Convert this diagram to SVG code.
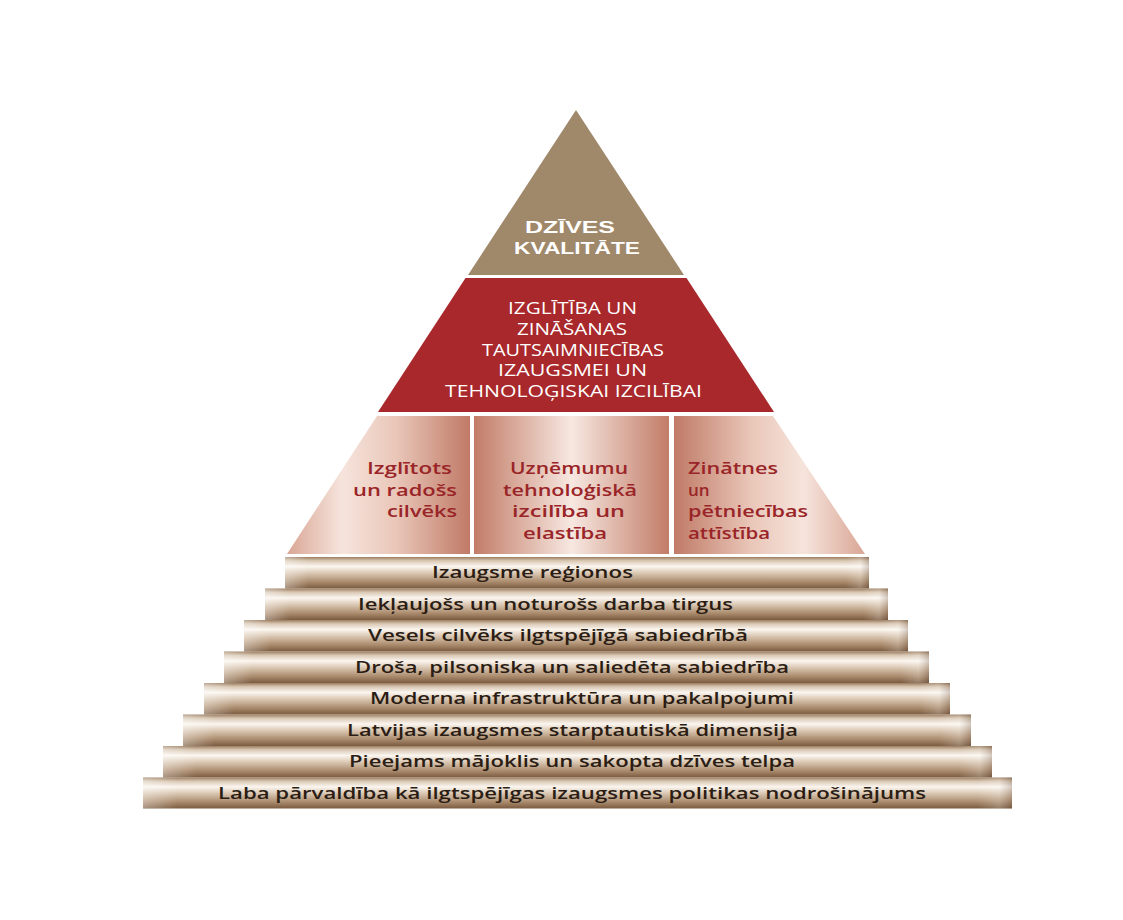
<svg xmlns="http://www.w3.org/2000/svg" width="1123" height="920" viewBox="0 0 1123 920">
<style>
.top{font-family:"Liberation Sans","Open Sans",sans-serif;font-weight:700;font-size:16.5px;fill:#ffffff}
.red{font-family:"Open Sans","Liberation Sans",sans-serif;font-weight:400;font-size:16px;fill:#ffffff}
.pan{font-family:"Open Sans","Liberation Sans",sans-serif;font-weight:600;font-size:17px;fill:#9a2528}
.bar{font-family:"Open Sans","Liberation Sans",sans-serif;font-weight:600;font-size:16.5px;fill:#2b1d14}
.barshape{fill:url(#barGrad)}
.barend{fill:url(#barEnd)}
</style>
<defs>
<linearGradient id="barGrad" x1="0" y1="0" x2="0" y2="1">
<stop offset="0" stop-color="#9c7d60"/>
<stop offset="0.12" stop-color="#d9c8b4"/>
<stop offset="0.3" stop-color="#fbf6f0"/>
<stop offset="0.5" stop-color="#dccab6"/>
<stop offset="0.78" stop-color="#ac8d6f"/>
<stop offset="1" stop-color="#7a5b40"/>
</linearGradient>
<linearGradient id="barEnd" x1="0" y1="0" x2="1" y2="0">
<stop offset="0" stop-color="#ffffff" stop-opacity="0.35"/>
<stop offset="0.04" stop-color="#ffffff" stop-opacity="0"/>
<stop offset="0.96" stop-color="#ffffff" stop-opacity="0"/>
<stop offset="0.985" stop-color="#ffffff" stop-opacity="0.2"/>
<stop offset="1" stop-color="#5a4030" stop-opacity="0.25"/>
</linearGradient>
<linearGradient id="gLeft" gradientUnits="userSpaceOnUse" x1="287" y1="0" x2="470" y2="0">
<stop offset="0" stop-color="#d9a695"/>
<stop offset="0.3" stop-color="#f6e4dc"/>
<stop offset="0.6" stop-color="#e9c6b8"/>
<stop offset="1" stop-color="#c07a66"/>
</linearGradient>
<linearGradient id="gMid" x1="0" y1="0" x2="1" y2="0">
<stop offset="0" stop-color="#c27c67"/>
<stop offset="0.5" stop-color="#f7e8e1"/>
<stop offset="1" stop-color="#c27c67"/>
</linearGradient>
<linearGradient id="gRight" gradientUnits="userSpaceOnUse" x1="674" y1="0" x2="865" y2="0">
<stop offset="0" stop-color="#c07a66"/>
<stop offset="0.4" stop-color="#e9c6b8"/>
<stop offset="0.68" stop-color="#f6e4dc"/>
<stop offset="1" stop-color="#d9a695"/>
</linearGradient>
</defs>
<rect width="1123" height="920" fill="#ffffff"/>

<g id="dzives-kvalitate">
<polygon points="576,110 468,275 684,275" fill="#a0886b"/>
<text class="top" x="525" y="233" textLength="90" lengthAdjust="spacingAndGlyphs">DZĪVES</text>
<text class="top" x="514" y="253.5" textLength="126" lengthAdjust="spacingAndGlyphs">KVALITĀTE</text>
</g>

<g id="izglitiba-zinasanas">
<polygon points="465.5,278 686.5,278 774,412 378,412" fill="#a8282b"/>
<text class="red" x="508" y="314" textLength="129" lengthAdjust="spacingAndGlyphs">IZGLĪTĪBA UN</text>
<text class="red" x="517" y="335" textLength="110" lengthAdjust="spacingAndGlyphs">ZINĀŠANAS</text>
<text class="red" x="482" y="355.5" textLength="182" lengthAdjust="spacingAndGlyphs">TAUTSAIMNIECĪBAS</text>
<text class="red" x="498" y="376" textLength="149" lengthAdjust="spacingAndGlyphs">IZAUGSMEI UN</text>
<text class="red" x="445" y="397" textLength="257" lengthAdjust="spacingAndGlyphs">TEHNOLOĢISKAI IZCILĪBAI</text>
</g>

<g id="izglitots-cilveks">
<polygon points="377,416 470,416 470,554 287,554" fill="url(#gLeft)"/>
<text class="pan" x="367" y="474" textLength="85" lengthAdjust="spacingAndGlyphs">Izglītots</text>
<text class="pan" x="353" y="495.5" textLength="104" lengthAdjust="spacingAndGlyphs">un radošs</text>
<text class="pan" x="387" y="517" textLength="70" lengthAdjust="spacingAndGlyphs">cilvēks</text>
</g>

<g id="uznemumu-izciliba">
<rect x="474" y="416" width="195" height="138" fill="url(#gMid)"/>
<text class="pan" x="510" y="474" textLength="118" lengthAdjust="spacingAndGlyphs">Uzņēmumu</text>
<text class="pan" x="503" y="495.5" textLength="134" lengthAdjust="spacingAndGlyphs">tehnoloģiskā</text>
<text class="pan" x="512" y="517" textLength="113" lengthAdjust="spacingAndGlyphs">izcilība un</text>
<text class="pan" x="523" y="538.5" textLength="84" lengthAdjust="spacingAndGlyphs">elastība</text>
</g>

<g id="zinatnes-attistiba">
<polygon points="674,416 773,416 865,554 674,554" fill="url(#gRight)"/>
<text class="pan" x="688" y="474" textLength="90" lengthAdjust="spacingAndGlyphs">Zinātnes</text>
<text class="pan" x="688" y="495.5">un</text>
<text class="pan" x="688" y="517" textLength="120" lengthAdjust="spacingAndGlyphs">pētniecības</text>
<text class="pan" x="688" y="538.5" textLength="82" lengthAdjust="spacingAndGlyphs">attīstība</text>
</g>

<g id="bar-1">
<rect class="barshape" x="285" y="557" width="584" height="31.5"/>
<rect class="barend" x="285" y="557" width="584" height="31.5"/>
<text class="bar" x="432" y="578" textLength="201" lengthAdjust="spacingAndGlyphs">Izaugsme reģionos</text>
</g>
<g id="bar-2">
<rect class="barshape" x="265" y="588.5" width="623" height="31.5"/>
<rect class="barend" x="265" y="588.5" width="623" height="31.5"/>
<text class="bar" x="358" y="610" textLength="375" lengthAdjust="spacingAndGlyphs">Iekļaujošs un noturošs darba tirgus</text>
</g>
<g id="bar-3">
<rect class="barshape" x="244" y="620" width="664" height="31.5"/>
<rect class="barend" x="244" y="620" width="664" height="31.5"/>
<text class="bar" x="368" y="641" textLength="380" lengthAdjust="spacingAndGlyphs">Vesels cilvēks ilgtspējīgā sabiedrībā</text>
</g>
<g id="bar-4">
<rect class="barshape" x="224" y="651.5" width="705" height="31.5"/>
<rect class="barend" x="224" y="651.5" width="705" height="31.5"/>
<text class="bar" x="355" y="672.5" textLength="434" lengthAdjust="spacingAndGlyphs">Droša, pilsoniska un saliedēta sabiedrība</text>
</g>
<g id="bar-5">
<rect class="barshape" x="204" y="683" width="746" height="31.5"/>
<rect class="barend" x="204" y="683" width="746" height="31.5"/>
<text class="bar" x="370" y="704" textLength="424" lengthAdjust="spacingAndGlyphs">Moderna infrastruktūra un pakalpojumi</text>
</g>
<g id="bar-6">
<rect class="barshape" x="183" y="714.5" width="788" height="31.5"/>
<rect class="barend" x="183" y="714.5" width="788" height="31.5"/>
<text class="bar" x="347" y="735.5" textLength="451" lengthAdjust="spacingAndGlyphs">Latvijas izaugsmes starptautiskā dimensija</text>
</g>
<g id="bar-7">
<rect class="barshape" x="163" y="746" width="829" height="31.5"/>
<rect class="barend" x="163" y="746" width="829" height="31.5"/>
<text class="bar" x="349" y="767" textLength="446" lengthAdjust="spacingAndGlyphs">Pieejams mājoklis un sakopta dzīves telpa</text>
</g>
<g id="bar-8">
<rect class="barshape" x="143" y="777.5" width="869" height="31"/>
<rect class="barend" x="143" y="777.5" width="869" height="31"/>
<text class="bar" x="218" y="798.5" textLength="708" lengthAdjust="spacingAndGlyphs">Laba pārvaldība kā ilgtspējīgas izaugsmes politikas nodrošinājums</text>
</g>

<g id="connectors"/>
</svg>
